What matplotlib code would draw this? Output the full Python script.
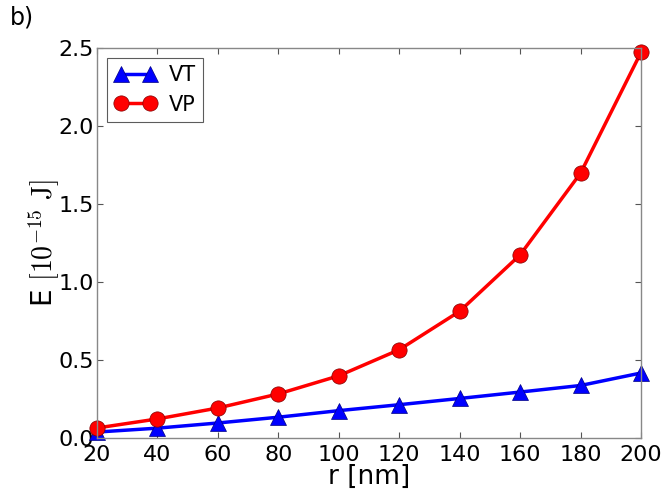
import matplotlib
matplotlib.use('Agg')
import matplotlib.pyplot as plt

r_nm = [20, 40, 60, 80, 100, 120, 140, 160, 180, 200]
vt_energy = [0.04, 0.065, 0.098, 0.135, 0.177, 0.215, 0.255, 0.296, 0.338, 0.418]
vp_energy = [0.066, 0.124, 0.194, 0.284, 0.40, 0.567, 0.813, 1.174, 1.697, 2.47]


def main():
    plt.rcParams['font.family'] = 'DejaVu Sans'
    plt.rcParams['mathtext.fontset'] = 'cm'
    fig = plt.figure(figsize=(6.63, 4.91), dpi=100)
    ax = fig.add_axes([97 / 663, 1 - 438.3 / 491, 544 / 663, 390.6 / 491])

    ax.plot(r_nm, vt_energy, color='blue', lw=2.5, marker='^', ms=11,
            mfc='blue', mec='#000080', mew=0.5, label='VT', clip_on=False)
    ax.plot(r_nm, vp_energy, color='red', lw=2.5, marker='o', ms=11,
            mfc='red', mec='#800000', mew=0.5, label='VP', clip_on=False)

    ax.set_xlim(20, 200)
    ax.set_ylim(0, 2.5)
    ax.set_xticks(range(20, 201, 20))
    ax.set_yticks([0.0, 0.5, 1.0, 1.5, 2.0, 2.5])
    ax.set_yticklabels(['0.0', '0.5', '1.0', '1.5', '2.0', '2.5'])
    ax.tick_params(direction='in', length=4, width=0.8, labelsize=16,
                   top=True, right=True, color='#555555')
    ax.tick_params(axis='x', pad=5)
    ax.tick_params(axis='y', pad=2)
    for s in ax.spines.values():
        s.set_color('#888888')
        s.set_linewidth(1.0)

    ax.set_xlabel('r [nm]', fontsize=19, labelpad=-1)
    ax.set_ylabel(r'E $[10^{-15}\ \mathrm{J}]$', fontsize=20, labelpad=-2)

    leg = ax.legend(loc='upper left', numpoints=2, fontsize=15,
                    fancybox=False, handlelength=2.0, borderpad=0.35,
                    labelspacing=0.45, handletextpad=0.6, borderaxespad=0.5)
    leg.get_frame().set_edgecolor('#333333')
    leg.get_frame().set_linewidth(0.8)

    fig.text(10 / 663, 1 - 18 / 491, 'b)', fontsize=17, va='center', ha='left')

    fig.savefig('out.png', dpi=100)


if __name__ == '__main__':
    main()
